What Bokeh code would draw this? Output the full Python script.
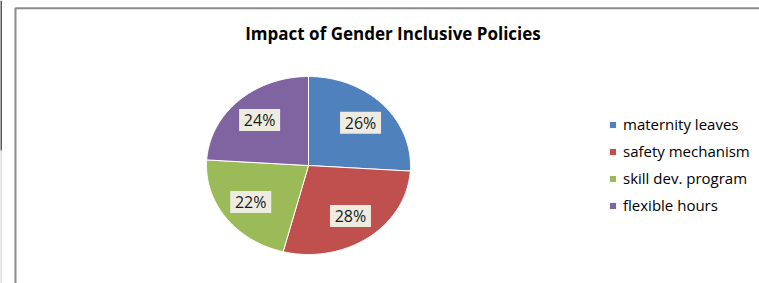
import numpy as np
from bokeh.plotting import figure
from bokeh.models import Range1d, ColumnDataSource, Legend, LegendItem
from bokeh.core.properties import value
from bokeh.embed import file_html
from bokeh.resources import INLINE

title = "Impact of Gender Inclusive Policies"
categories = ["maternity leaves", "safety mechanism", "skill dev. program", "flexible hours"]
shares = [26, 28, 22, 24]
colors = ["#4F81BD", "#C0504D", "#9BBB59", "#8064A2"]

W, H = 759, 283
p = figure(width=W, height=H, x_range=Range1d(0, W), y_range=Range1d(H, 0),
           output_backend="svg", toolbar_location=None, min_border=0)
p.axis.visible = False
p.grid.visible = False
p.outline_line_color = None
p.background_fill_color = "white"
p.border_fill_color = "white"

# page edge and chart-area border (left and top edges visible)
p.line(x=[0.5, 0.5], y=[0, 150], line_color="#222222", line_width=1.5)
p.line(x=[0.5, 0.5], y=[150, H], line_color="#d0d0d0", line_width=1.5)
p.line(x=[15, 15, W], y=[H, 7.8, 7.8], line_color="#8c8c8c", line_width=2)

# pie (slightly elliptical), clockwise from 12 o'clock
cx, cy, rx, ry = 308, 165, 102, 89
vals = np.array(shares, dtype=float)
frac = vals / vals.sum()
ends = np.cumsum(frac) * 2 * np.pi
starts = ends - frac * 2 * np.pi
xs, ys = [], []
for a0, a1 in zip(starts, ends):
    t = np.linspace(a0, a1, 80)
    xs.append([cx] + list(cx + rx * np.sin(t)))
    ys.append([cy] + list(cy - ry * np.cos(t)))
src = ColumnDataSource(dict(xs=xs, ys=ys, color=colors, label=categories))
r = p.patches("xs", "ys", source=src, fill_color="color", line_color="white", line_width=1)

# data labels
mids = (starts + ends) / 2
k = 0.7
lx = cx + k * rx * np.sin(mids)
ly = cy - k * ry * np.cos(mids)
lab = ColumnDataSource(dict(x=lx, y=ly, t=[f"{v}%" for v in shares]))
p.rect("x", "y", width=41, height=22, source=lab, fill_color="#EEECE1", line_color=None)
p.text("x", "y", text="t", source=lab, text_align="center", text_baseline="middle",
       text_font=value("Open Sans"), text_font_size="16px", text_color="#1a1a1a")

# title
p.text(x=[392.5], y=[33], text=[title], text_align="center", text_baseline="middle",
       text_font=value("Open Sans"), text_font_size="17px", text_font_style="bold", text_color="black")

legend = Legend(items=[LegendItem(label=c, renderers=[r], index=i) for i, c in enumerate(categories)],
                location=(608, 68), padding=0, margin=0, spacing=7,
                glyph_width=9, glyph_height=9, label_height=20, label_standoff=6,
                label_text_font="Open Sans", label_text_font_size="15px", label_text_color="black",
                border_line_color=None, background_fill_alpha=0)
p.add_layout(legend, "center")

open("out.html", "w").write(file_html(p, INLINE))
